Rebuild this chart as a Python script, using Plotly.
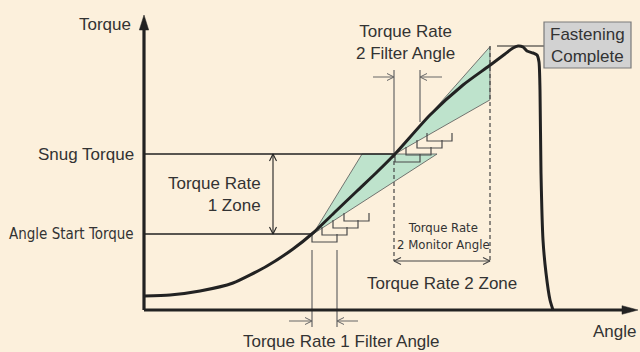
import math
import plotly.graph_objects as go

# ---- tightening curve (angle in deg, torque in schematic units) ----
curve_angle = [0, 26, 56, 89, 123, 149, 169, 191, 213, 233, 251, 286, 319, 345,
               361, 369, 374, 379, 383, 389, 393, 395, 396, 397, 399, 402, 406, 409]
curve_torque = [14, 15, 19, 27, 44, 61, 77, 98, 119, 138, 156, 195, 225, 244,
                256, 262, 264, 263, 259, 257, 255, 248, 220, 137, 70, 37, 10, 0]

# ---- control levels ----
angle_start_torque = 76
snug_torque = 156
angle_start_angle = 169
snug_angle = 251
peak_torque = 264
peak_angle = 353

filter1_width = 25
filter2_width = 26
monitor_end_angle = 346

rate1_limits = [1.63, 0.645]     # upper / lower torque-rate bounds, zone 1
rate2_limits = [1.13, 0.57]      # upper / lower torque-rate bounds, zone 2

# sampling windows stepping along each zone
stair1_angles = [168, 178, 189, 200]
stair1_torques = [68, 75, 82, 89]
stair2_angles = [251, 262, 273, 283]
stair2_torques = [148, 155, 162, 169]
stair_height = 8

BG = "#FCF0DC"
INK = "#222222"
TXT = "#333333"
GREY = "#666666"
MINT = "#BEE3CC"
FONT = "Liberation Sans, Arial, sans-serif"
NARROW = "Liberation Sans Narrow, DejaVu Sans Condensed, Liberation Sans, Arial"

fig = go.Figure()


def seg(xs, ys, color=INK, width=1.4, dash=None):
    fig.add_trace(go.Scatter(x=xs, y=ys, mode="lines", hoverinfo="skip",
                             line=dict(color=color, width=width, dash=dash),
                             showlegend=False))


def vhead(tx, ty, dx, dy, color=INK, length=7, half=3.5, width=1.1):
    n = math.hypot(dx, dy)
    ux, uy = dx / n, dy / n
    px, py = -uy, ux
    bx, by = tx - ux * length, ty - uy * length
    seg([bx + px * half, tx, bx - px * half],
        [by + py * half, ty, by - py * half], color, width)


def arrow(x0, y0, x1, y1, color=INK, width=1.1):
    seg([x0, x1], [y0, y1], color, width)
    vhead(x1, y1, x1 - x0, y1 - y0, color, width=width)


# ---- tolerance wedges ----
r1_hi, r1_lo = rate1_limits
rise1 = snug_torque - angle_start_torque
fig.add_trace(go.Scatter(
    x=[angle_start_angle, angle_start_angle + rise1 / r1_hi,
       angle_start_angle + rise1 / r1_lo, angle_start_angle],
    y=[angle_start_torque, snug_torque, snug_torque, angle_start_torque],
    fill="toself", fillcolor=MINT, mode="lines",
    line=dict(color="#555555", width=0.8), hoverinfo="skip", showlegend=False))

r2_hi, r2_lo = rate2_limits
run2 = monitor_end_angle - snug_angle
fig.add_trace(go.Scatter(
    x=[snug_angle, monitor_end_angle, monitor_end_angle, snug_angle],
    y=[snug_torque, snug_torque + r2_hi * run2, snug_torque + r2_lo * run2, snug_torque],
    fill="toself", fillcolor=MINT, mode="lines",
    line=dict(color="#555555", width=0.8), hoverinfo="skip", showlegend=False))

# ---- sampling-window brackets ----
for angs, tqs, w in [(stair1_angles, stair1_torques, filter1_width),
                     (stair2_angles, stair2_torques, filter2_width - 1)]:
    for a, t in zip(angs, tqs):
        seg([a, a, a + w, a + w], [t + stair_height, t, t, t + stair_height],
            "#4a4a4a", 1.2)

# ---- reference levels ----
seg([0, snug_angle], [snug_torque, snug_torque], INK, 1.5)
seg([0, angle_start_angle], [angle_start_torque, angle_start_torque], INK, 1.5)

# zone 1 span
zone1_x = 129
seg([zone1_x, zone1_x], [angle_start_torque, snug_torque], INK, 1.1)
vhead(zone1_x, snug_torque, 0, 1)
vhead(zone1_x, angle_start_torque, 0, -1)

# filter angle 1
f1a, f1b = angle_start_angle - 1, angle_start_angle - 1 + filter1_width
seg([f1a, f1a], [60, -17], GREY, 1.2)
seg([f1b, f1b], [60, -17], GREY, 1.2)
arrow(f1a - 23, -11, f1a, -11, GREY, 1.0)
arrow(f1b + 21, -11, f1b, -11, GREY, 1.0)

# filter angle 2
f2a, f2b = snug_angle - 1, snug_angle - 1 + filter2_width
seg([f2a, f2a], [240, snug_torque], GREY, 1.2)
seg([f2b, f2b], [240, 188], GREY, 1.2)
arrow(f2a - 21, 233, f2a, 233, GREY, 1.0)
arrow(f2b + 22, 233, f2b, 233, GREY, 1.0)

# monitor angle (dashed bounds)
seg([f2a, f2a], [snug_torque, 49], "#444444", 1.2, "4px,3px")
seg([monitor_end_angle, monitor_end_angle], [peak_torque, 49], "#444444", 1.2, "4px,3px")
seg([f2a, monitor_end_angle], [49, 49], "#444444", 1.0)
vhead(f2a, 49, -1, 0, "#444444")
vhead(monitor_end_angle, 49, 1, 0, "#444444")

# peak marker to the completion box
seg([peak_angle, 400], [peak_torque, peak_torque], INK, 1.0)

# ---- axes ----
seg([0, 0], [0, 280], INK, 3.2)
seg([0, 480], [0, 0], INK, 3.2)
fig.add_trace(go.Scatter(x=[-4.7, 4.7, 0, -4.7], y=[280, 280, 295, 280], fill="toself",
                         fillcolor=INK, mode="lines", line=dict(color=INK, width=0.5),
                         hoverinfo="skip", showlegend=False))
fig.add_trace(go.Scatter(x=[478, 478, 494, 478], y=[4.3, -4.3, 0, 4.3], fill="toself",
                         fillcolor=INK, mode="lines", line=dict(color=INK, width=0.5),
                         hoverinfo="skip", showlegend=False))

# ---- torque curve ----
fig.add_trace(go.Scatter(x=curve_angle, y=curve_torque, mode="lines",
                         line=dict(color=INK, width=3, shape="spline", smoothing=0.6),
                         hoverinfo="skip", showlegend=False))

# ---- texts ----
def label(x, y, text, xanchor="center", align="center", size=17, family=FONT):
    fig.add_annotation(x=x, y=y, text=text, showarrow=False, xanchor=xanchor,
                       yanchor="middle", align=align,
                       font=dict(family=family, size=size, color=TXT))


label(-11, 286, "Torque", "right")
label(-8, snug_torque, "Snug Torque", "right")
label(-8, angle_start_torque, "Angle Start Torque", "right", size=15, family=NARROW)
label(119, 116, "Torque Rate<br>1 Zone", "right", "right")
label(261, 267.5, "Torque Rate<br>2 Filter Angle")
label(299, 74, "Torque Rate<br>2 Monitor Angle", size=13, family=NARROW)
label(298, 26.7, "Torque Rate 2 Zone")
label(197.5, -31.7, "Torque Rate 1 Filter Angle")
label(494, -21, "Angle", "right")

fig.add_shape(type="rect", x0=400, x1=487, y0=242, y1=288, xref="x", yref="y",
              fillcolor="#D2D2D2", line=dict(color="#7a7a7a", width=1.2))
label(443.5, 265, "Fastening<br>Complete")

fig.update_layout(
    width=640, height=352, margin=dict(l=0, r=0, t=0, b=0),
    paper_bgcolor=BG, plot_bgcolor=BG,
    xaxis=dict(range=[-144, 496], visible=False, fixedrange=True),
    yaxis=dict(range=[-42, 310], visible=False, fixedrange=True),
)

fig.write_html("out.html")
